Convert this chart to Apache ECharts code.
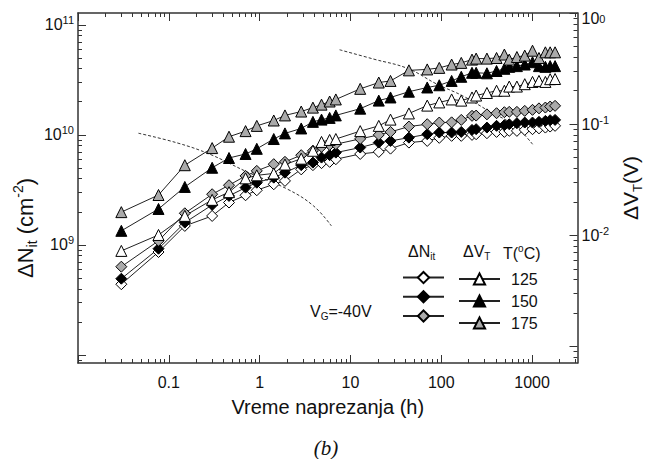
<!DOCTYPE html>
<html><head><meta charset="utf-8">
<script src="https://cdn.jsdelivr.net/npm/echarts@6/dist/echarts.min.js"></script>
<style>html,body{margin:0;padding:0;background:#fff}#c{width:652px;height:459px}</style>
</head><body><div id="c"></div>
<script>
// ---- data ----
const hours = [0.03, 0.077, 0.15, 0.3, 0.46, 0.7, 0.93, 1.43, 1.9, 2.87, 3.86, 4.8, 5.9, 6.9, 12.8, 20.5, 27.6, 44, 70, 95, 130, 166, 218, 242, 318, 406, 495, 560, 680, 830, 1010, 1190, 1400, 1580, 1790];
const dVT175 = [0.0162, 0.0231, 0.0428, 0.061, 0.0772, 0.0867, 0.0966, 0.108, 0.120, 0.130, 0.141, 0.150, 0.160, 0.167, 0.208, 0.237, 0.245, 0.305, 0.311, 0.321, 0.344, 0.356, 0.381, 0.389, 0.389, 0.394, 0.423, 0.381, 0.402, 0.414, 0.458, 0.394, 0.443, 0.443, 0.443];
const dVT150 = [0.0110, 0.0173, 0.0273, 0.0406, 0.0497, 0.0540, 0.0601, 0.0736, 0.0827, 0.0916, 0.105, 0.110, 0.114, 0.120, 0.138, 0.163, 0.174, 0.196, 0.214, 0.224, 0.245, 0.267, 0.290, 0.290, 0.287, 0.301, 0.315, 0.328, 0.333, 0.344, 0.361, 0.333, 0.328, 0.333, 0.333];
const dVT125 = [0.00726, 0.0101, 0.0150, 0.0209, 0.0245, 0.0326, 0.0347, 0.0361, 0.0434, 0.0490, 0.0577, 0.0693, 0.0722, 0.0736, 0.0867, 0.0966, 0.110, 0.125, 0.147, 0.157, 0.167, 0.163, 0.174, 0.181, 0.191, 0.200, 0.200, 0.218, 0.218, 0.229, 0.240, 0.245, 0.240, 0.254, 0.255];
const dNit175 = [6.35e8, 1.09e9, 1.94e9, 2.89e9, 3.49e9, 4.24e9, 4.71e9, 5.42e9, 5.69e9, 6.54e9, 7.16e9, 7.79e9, 8.11e9, 8.23e9, 9.20e9, 1.0e10, 1.064e10, 1.19e10, 1.25e10, 1.294e10, 1.30e10, 1.368e10, 1.489e10, 1.497e10, 1.536e10, 1.574e10, 1.607e10, 1.618e10, 1.618e10, 1.652e10, 1.688e10, 1.741e10, 1.771e10, 1.808e10, 1.835e10];
const dNit150 = [4.94e8, 9.25e8, 1.596e9, 2.31e9, 2.79e9, 3.32e9, 3.68e9, 4.09e9, 4.54e9, 5.31e9, 5.60e9, 6.22e9, 6.54e9, 6.90e9, 7.67e9, 8.51e9, 8.81e9, 9.44e9, 1.014e10, 1.05e10, 1.05e10, 1.064e10, 1.11e10, 1.127e10, 1.165e10, 1.208e10, 1.225e10, 1.25e10, 1.277e10, 1.294e10, 1.294e10, 1.313e10, 1.34e10, 1.36e10, 1.368e10];
const dNit125 = [4.40e8, 8.63e8, 1.49e9, 1.835e9, 2.43e9, 2.83e9, 3.14e9, 3.56e9, 3.82e9, 4.86e9, 5.31e9, 5.54e9, 5.69e9, 6.01e9, 6.71e9, 7.0e9, 7.50e9, 8.51e9, 8.81e9, 9.40e9, 9.80e9, 9.80e9, 1.0e10, 1.014e10, 1.035e10, 1.064e10, 1.064e10, 1.087e10, 1.087e10, 1.11e10, 1.127e10, 1.146e10, 1.165e10, 1.19e10, 1.208e10];
const fitLowH = [0.0463, 0.124, 0.282, 0.757, 2.03, 3.93, 6.17];
const fitLowN = [1.035e10, 8.45e9, 6.68e9, 4.54e9, 3.21e9, 2.26e9, 1.49e9];
const fitHighH = [7.59, 18.0, 42.7, 89.5, 172.6, 333, 644, 1012];
const fitHighN = [5.93e10, 4.88e10, 4.01e10, 2.89e10, 2.26e10, 1.65e10, 1.21e10, 8.22e9];
const temps = ['125', '150', '175'];
const xTickValues = [0.1, 1, 10, 100, 1000];
const xTickLabels = ['0.1', '1', '10', '100', '1000'];
const nitLabelExps = [9, 10, 11];
const vtLabelExps = [-2, -1, 0];

// ---- helpers ----
const FONT = '"Liberation Sans", Arial, sans-serif';
const lg = Math.log10;
const X_RANGE = [-2, 3.5];
const N_RANGE = [7.928, 11.107];
const V_RANGE = [-3.147, 0];
function logTicks(range) {
  const major = [], minor = [];
  for (let e = Math.floor(range[0]) - 1; e <= Math.ceil(range[1]); e++) {
    if (e >= range[0] - 1e-9 && e <= range[1] + 1e-9) major.push(e);
    for (let k = 2; k <= 9; k++) {
      const v = e + lg(k);
      if (v >= range[0] && v <= range[1]) minor.push(v);
    }
  }
  return { major, minor };
}
const xT = logTicks(X_RANGE), nT = logTicks(N_RANGE), vT = logTicks(V_RANGE);
const pairs = (xs, ys) => xs.map((x, i) => [lg(x), lg(ys[i])]);
const AX = '#333';
const supRich = {
  b: { fontSize: 16, fontFamily: FONT, color: '#111', lineHeight: 20 },
  s: { fontSize: 11, fontFamily: FONT, color: '#111', verticalAlign: 'top', lineHeight: 12 },
  bt: { fontSize: 16, fontFamily: FONT, color: '#111', lineHeight: 20, padding: [10, 0, 0, 0] },
  st: { fontSize: 11, fontFamily: FONT, color: '#111', verticalAlign: 'top', lineHeight: 12, padding: [10, 0, 0, 0] }
};
const expLabel = v => Math.round(v) === 0
  ? '{bt|10}{st|0}'
  : '{b|10}{s|' + Math.round(v) + '}';

function xAxisDef(pos, ticks, len, showLine, labels) {
  return {
    type: 'value', position: pos, min: X_RANGE[0], max: X_RANGE[1], gridIndex: 0,
    splitLine: { show: false },
    axisLine: { show: showLine, onZero: false, lineStyle: { color: AX, width: 1.5 } },
    axisTick: { show: true, inside: true, length: len, customValues: ticks, lineStyle: { color: AX, width: 1 } },
    axisLabel: labels ? {
      show: true, customValues: xTickValues.map(lg), margin: 11,
      fontSize: 16, fontFamily: FONT, color: '#111',
      formatter: v => xTickLabels[xTickValues.findIndex(t => Math.abs(lg(t) - v) < 1e-6)]
    } : { show: false },
    name: labels ? 'Vreme naprezanja (h)' : '',
    nameLocation: 'middle', nameGap: 34,
    nameTextStyle: { fontSize: 20, fontFamily: FONT, color: '#111' }
  };
}
function yAxisDef(pos, range, ticks, len, showLine, labelExps, name, nameGap, nameRich) {
  return {
    type: 'value', position: pos, min: range[0], max: range[1], gridIndex: 0,
    splitLine: { show: false },
    axisLine: { show: showLine, onZero: false, lineStyle: { color: AX, width: 1.5 } },
    axisTick: { show: true, inside: true, length: len, customValues: ticks, lineStyle: { color: AX, width: 1 } },
    axisLabel: labelExps ? {
      show: true, customValues: labelExps, margin: 4, formatter: expLabel, rich: supRich
    } : { show: false },
    name: name || '', nameLocation: 'middle', nameGap: nameGap || 0, nameRotate: 90,
    nameTextStyle: { fontSize: 21, fontFamily: FONT, color: '#111', rich: nameRich }
  };
}
const nameRich = {
  t: { fontSize: 21, fontFamily: FONT, color: '#111', lineHeight: 27 },
  sub: { fontSize: 13, fontFamily: FONT, color: '#111', verticalAlign: 'bottom', lineHeight: 15 },
  sup: { fontSize: 13, fontFamily: FONT, color: '#111', verticalAlign: 'top', lineHeight: 15 }
};
const titleRich = {
  t: { fontSize: 22, fontFamily: FONT, fill: '#111', lineHeight: 28 },
  sub: { fontSize: 14, fontFamily: FONT, fill: '#111', verticalAlign: 'bottom', lineHeight: 16 },
  sup: { fontSize: 14, fontFamily: FONT, fill: '#111', verticalAlign: 'top', lineHeight: 16 }
};

const GRAY = '#aaaaaa';
function markerSeries(name, ys, yIdx, symbol, fill) {
  return {
    name, type: 'line', xAxisIndex: 0, yAxisIndex: yIdx, data: pairs(hours, ys),
    symbol, symbolSize: 11, showSymbol: true,
    lineStyle: { color: '#222', width: 1 },
    itemStyle: { color: fill, borderColor: '#000', borderWidth: 1 },
    emphasis: { disabled: true }, animation: false, z: 3
  };
}
function fitSeries(name, xs, ys) {
  return {
    name, type: 'line', xAxisIndex: 0, yAxisIndex: 0, data: pairs(xs, ys),
    symbol: 'none', smooth: 0.4,
    lineStyle: { color: '#333', width: 1, type: [3, 2] },
    emphasis: { disabled: true }, animation: false, z: 2
  };
}

const series = [
  fitSeries('fitLow', fitLowH, fitLowN),
  fitSeries('fitHigh', fitHighH, fitHighN),
  markerSeries('Nit125', dNit125, 0, 'diamond', '#fff'),
  markerSeries('Nit150', dNit150, 0, 'diamond', '#000'),
  markerSeries('Nit175', dNit175, 0, 'diamond', GRAY),
  markerSeries('VT125', dVT125, 2, 'triangle', '#fff'),
  markerSeries('VT150', dVT150, 2, 'triangle', '#000'),
  markerSeries('VT175', dVT175, 2, 'triangle', GRAY)
];

const TXT = { t: { fontSize: 16, fontFamily: FONT, fill: '#111', lineHeight: 20 } };
const subRich = Object.assign({}, TXT, { s: { fontSize: 10, fontFamily: FONT, fill: '#111', verticalAlign: 'bottom', lineHeight: 14 } });
const supRich2 = Object.assign({}, TXT, { s: { fontSize: 10, fontFamily: FONT, fill: '#111', verticalAlign: 'top', lineHeight: 14 } });

const chart = echarts.init(document.getElementById('c'), null, { renderer: 'svg' });
chart.setOption({
  animation: false,
  backgroundColor: '#fff',
  grid: { left: 78, right: 61, top: 7, bottom: 96, containLabel: false },
  xAxis: [
    xAxisDef('bottom', xT.major, 8, true, true),
    xAxisDef('bottom', xT.minor, 4, false, false),
    xAxisDef('top', xT.major, 8, true, false),
    xAxisDef('top', xT.minor, 4, false, false)
  ],
  yAxis: [
    yAxisDef('left', N_RANGE, nT.major, 8, true, nitLabelExps, '', 0, null),
    yAxisDef('left', N_RANGE, nT.minor, 4, false, null),
    yAxisDef('right', V_RANGE, vT.major, 8, true, vtLabelExps,
      '{t|ΔV}{sub|T}{t|(V)}', 27, nameRich),
    yAxisDef('right', V_RANGE, vT.minor, 4, false, null)
  ],
  legend: [
    {
      data: ['Nit125', 'Nit150', 'Nit175'], orient: 'vertical', left: 402, top: 271, padding: 0,
      itemWidth: 41, itemHeight: 14, itemGap: 6, formatter: () => '', selectedMode: false,
      textStyle: { fontSize: 1, lineHeight: 14 }
    },
    {
      data: ['VT125', 'VT150', 'VT175'], orient: 'vertical', left: 458, top: 271, padding: 0,
      itemWidth: 41, itemHeight: 14, itemGap: 6, selectedMode: false,
      formatter: n => temps[['VT125', 'VT150', 'VT175'].indexOf(n)],
      textStyle: { fontSize: 16, lineHeight: 14, fontFamily: FONT, color: '#111', padding: [0, 0, 0, 6] }
    }
  ],
  graphic: [
    { type: 'text', x: 25, y: 228, rotation: Math.PI / 2,
      style: { text: '{t|ΔN}{sub|it}{t| (cm}{sup|-2}{t|)}', rich: titleRich, align: 'center', verticalAlign: 'middle' } },
    { type: 'text', left: 408, top: 243, style: { text: '{t|ΔN}{s|it}', rich: subRich } },
    { type: 'text', left: 463, top: 243, style: { text: '{t|ΔV}{s|T}', rich: subRich } },
    { type: 'text', left: 503, top: 243, style: { text: '{t|T(}{s|o}{t|C)}', rich: supRich2 } },
    { type: 'text', left: 310, top: 303, style: { text: '{t|V}{s|G}{t|=-40V}', rich: subRich } },
    { type: 'text', left: 'center', top: 437, style: { text: '(b)', fontSize: 21, fontStyle: 'italic', fontFamily: '"Liberation Serif", "Times New Roman", serif', fill: '#111' } }
  ],
  series
});
</script></body></html>
